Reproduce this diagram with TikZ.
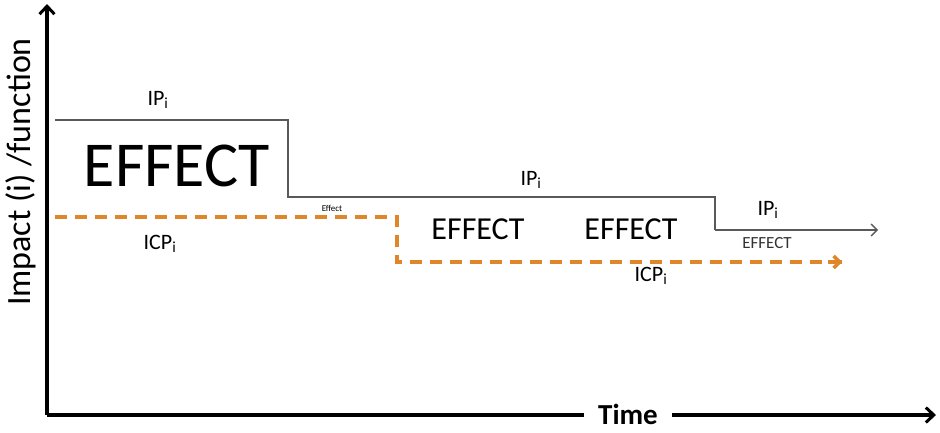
\documentclass[tikz,border=0pt]{standalone}
\usepackage{fontspec}
\setmainfont{Carlito}
\usepackage{xcolor}
\usetikzlibrary{arrows.meta,positioning,calc}
\definecolor{effectorange}{HTML}{E0862A}
\colorlet{stepgray}{black!65}

\begin{document}
\begin{tikzpicture}[x=1pt, y=-1pt,
axis/.style={line width=3.5pt, -{Straight Barb[length=8pt, width=15pt, line width=3pt]}},
ipline/.style={draw=stepgray, line width=1.3pt},
icpline/.style={draw=effectorange, line width=3.5pt, dash pattern=on 12pt off 8pt},
lbl/.style={inner sep=0pt, font=\fontsize{22}{24}\selectfont}]
\useasboundingbox (0,0) rectangle (940,432);

% Axes
\coordinate (origin) at (47,415);
\coordinate (ytop) at (47,4);
\coordinate (xend) at (936,415);
\node [inner sep=0pt, font=\bfseries\fontsize{29}{31}\selectfont] (timelabel) at (628,414) {Time};
\node [inner sep=0pt, rotate=90, font=\fontsize{34}{36}\selectfont] (ylabel) at (21,172) {Impact (i) /function};

\draw [line width=3.5pt] (origin) -- ([xshift=-14pt]timelabel.west |- origin);
\draw [axis] ([xshift=14pt]timelabel.east |- origin) -- (xend);
\draw [axis] (origin) -- (ytop);

% Impact profile
\coordinate (ip1) at (55,120);
\coordinate (ip2) at (288,120);
\coordinate (ip3) at (288,197);
\coordinate (ip4) at (715,197);
\coordinate (ip5) at (715,230);
\coordinate (ip6) at (878,230);

\draw [ipline] (ip1) -- (ip2) -- (ip3) -- (ip4) -- (ip5);
\draw [ipline, -{Straight Barb[length=6pt, width=12pt]}] (ip5) -- (ip6);

% Impact with counter-measures
\coordinate (icp1) at (55,217);
\coordinate (icp2) at (397,217);
\coordinate (icp3) at (397,262);
\coordinate (icp4) at (842,262);

\draw [icpline] (icp1) -- (icp2) -- (icp3) -- (icp4);
\draw [draw=effectorange, line width=3.5pt, -{Straight Barb[length=6pt, width=12pt, line width=3.5pt]}] ([xshift=-14pt]icp4) -- (icp4);

% Labels
\node [lbl] (iplabela) at (158,100) {IP\textsubscript{i}};
\node [lbl] (iplabelb) at (531,180) {IP\textsubscript{i}};
\node [lbl] (iplabelc) at (768,210) {IP\textsubscript{i}};
\node [lbl] (icplabela) at (160,244) {ICP\textsubscript{i}};
\node [lbl] (icplabelb) at (651,276) {ICP\textsubscript{i}};

\node [inner sep=0pt, font=\fontsize{64}{66}\selectfont] (effectbig) at (177,166) {EFFECT};
\node [inner sep=0pt, font=\fontsize{9}{10}\selectfont] (effecttiny) at (332,208) {Effect};
\node [inner sep=0pt, font=\fontsize{32}{34}\selectfont] (effectmida) at (478,229) {EFFECT};
\node [inner sep=0pt, font=\fontsize{32}{34}\selectfont] (effectmidb) at (631,229) {EFFECT};
\node [inner sep=0pt, font=\fontsize{17}{18}\selectfont, text=black!80] (effectsmall) at (767,243) {EFFECT};
\end{tikzpicture}
\end{document}
